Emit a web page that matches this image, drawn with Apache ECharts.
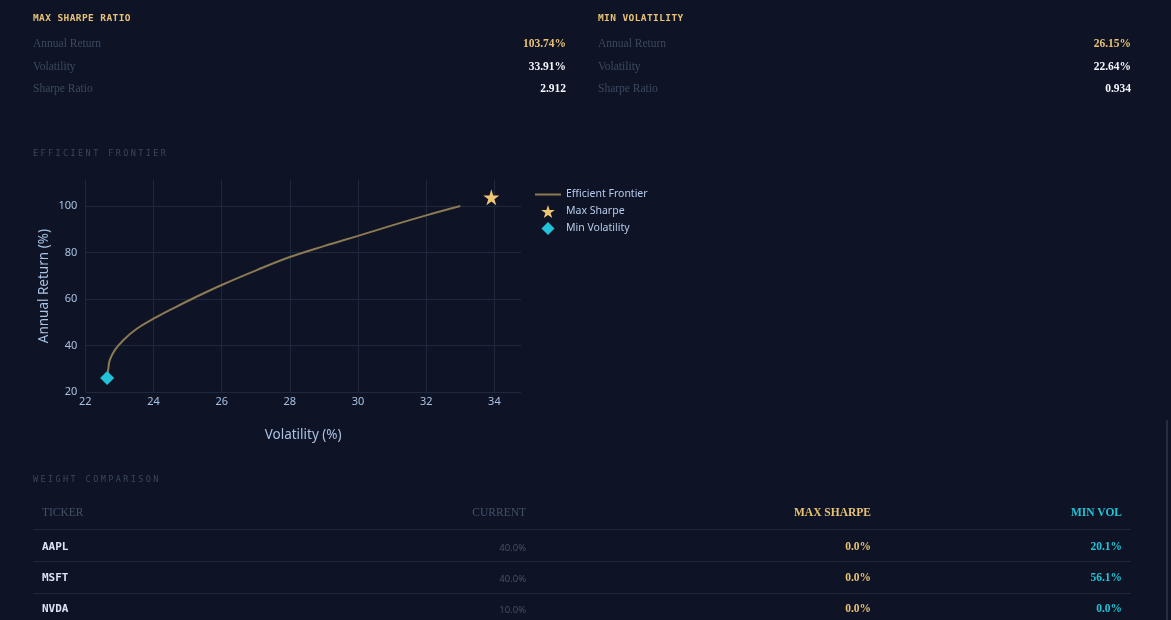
<!DOCTYPE html>
<html>
<head>
<meta charset="utf-8">
<script src="https://cdn.jsdelivr.net/npm/echarts@6.0.0/dist/echarts.min.js"></script>
<style>
  html, body { margin: 0; padding: 0; background: #0e1425; width: 1171px; height: 620px; overflow: hidden; }
  .abs { position: absolute; white-space: nowrap; }
  .hd { font-family: "DejaVu Sans Mono", monospace; font-weight: bold; font-size: 9.5px; color: #e6c178; letter-spacing: 0.4px; }
  .lbl { font-family: "Liberation Serif", serif; font-size: 11.5px; color: #3b4960; }
  .val { font-family: "Liberation Serif", serif; font-weight: bold; font-size: 11.5px; color: #f2f5fb; text-align: right; }
  .gold { color: #e9c274; }
  .cyan { color: #22c2d6; }
  .sec { font-family: "DejaVu Sans Mono", monospace; font-size: 8.5px; color: #3a465e; letter-spacing: 2.4px; }
  .th { font-family: "Liberation Serif", serif; font-size: 11.5px; color: #435169; }
  .thb { font-family: "Liberation Serif", serif; font-weight: bold; font-size: 11.5px; }
  .tk { font-family: "DejaVu Sans Mono", monospace; font-weight: bold; font-size: 11px; color: #dbe4f3; }
  .cur { font-family: "Open Sans", sans-serif; font-size: 9.5px; color: #46536a; }
  .sep { position: absolute; left: 33px; width: 1098px; height: 1px; background: #1f2838; }
  #chart { position: absolute; left: 0; top: 0; width: 1171px; height: 620px; }
</style>
</head>
<body>
<div id="chart"></div>
<div id="overlay"></div>
<script>
// ---- data ----
const frontierVol = [22.64, 22.67, 22.72, 22.87, 23.12, 23.51, 24.0, 24.58, 25.17, 26.0, 27.03, 28.0, 29.0, 30.0, 31.0, 32.0, 33.0];
const frontierRet = [26.2, 29.6, 33.9, 38.2, 42.5, 47.3, 51.6, 56.1, 60.4, 66.1, 72.5, 78.1, 82.8, 87.2, 91.7, 96.0, 100.0];
const maxSharpePoint = [33.91, 103.74];
const minVolPoint = [22.64, 26.15];
const xTicks = [22, 24, 26, 28, 30, 32, 34];
const yTicks = [20, 40, 60, 80, 100];
const seriesNames = ["Efficient Frontier", "Max Sharpe", "Min Volatility"];

const statRows = ["Annual Return", "Volatility", "Sharpe Ratio"];
const maxSharpeStats = ["103.74%", "33.91%", "2.912"];
const minVolStats = ["26.15%", "22.64%", "0.934"];

const tableHeaders = ["TICKER", "CURRENT", "MAX SHARPE", "MIN VOL"];
const tickers = ["AAPL", "MSFT", "NVDA"];
const currentWeights = ["40.0%", "40.0%", "10.0%"];
const maxSharpeWeights = ["0.0%", "0.0%", "0.0%"];
const minVolWeights = ["20.1%", "56.1%", "0.0%"];

// ---- HTML text panels ----
const ov = document.getElementById('overlay');
function add(cls, text, style) {
  const d = document.createElement('div');
  d.className = 'abs ' + cls;
  d.textContent = text;
  Object.assign(d.style, style);
  ov.appendChild(d);
  return d;
}
add('hd', 'MAX SHARPE RATIO', { left: '33px', top: '12px' });
add('hd', 'MIN VOLATILITY', { left: '598px', top: '12px' });
const rowY = [37, 60, 82];
statRows.forEach((r, i) => {
  add('lbl', r, { left: '33px', top: rowY[i] + 'px' });
  add('lbl', r, { left: '598px', top: rowY[i] + 'px' });
  add('val' + (i === 0 ? ' gold' : ''), maxSharpeStats[i], { right: (1171 - 566) + 'px', top: rowY[i] + 'px' });
  add('val' + (i === 0 ? ' gold' : ''), minVolStats[i], { right: (1171 - 1131) + 'px', top: rowY[i] + 'px' });
});
add('sec', 'EFFICIENT FRONTIER', { left: '33px', top: '148px' });
add('sec', 'WEIGHT COMPARISON', { left: '33px', top: '474px' });

add('th', tableHeaders[0], { left: '42px', top: '506px' });
add('th', tableHeaders[1], { right: (1171 - 526) + 'px', top: '506px' });
add('thb gold', tableHeaders[2], { right: (1171 - 871) + 'px', top: '506px' });
add('thb cyan', tableHeaders[3], { right: (1171 - 1122) + 'px', top: '506px' });
[529, 561, 593].forEach(y => {
  const s = document.createElement('div');
  s.className = 'sep';
  s.style.top = y + 'px';
  ov.appendChild(s);
});
const trY = [540, 571, 602];
tickers.forEach((t, i) => {
  add('tk', t, { left: '42px', top: trY[i] + 'px' });
  add('cur', currentWeights[i], { right: (1171 - 526) + 'px', top: (trY[i] + 1) + 'px' });
  add('thb gold', maxSharpeWeights[i], { right: (1171 - 871) + 'px', top: trY[i] + 'px' });
  add('thb cyan', minVolWeights[i], { right: (1171 - 1122) + 'px', top: trY[i] + 'px' });
});
const sb = document.createElement('div');
Object.assign(sb.style, { position: 'absolute', left: '1166px', top: '420px', width: '2px', height: '200px', background: '#262d3b' });
ov.appendChild(sb);

// ---- chart ----
const chart = echarts.init(document.getElementById('chart'), null, { renderer: 'canvas' });
const frontierData = frontierVol.map((v, i) => [v, frontierRet[i]]);
const gridLineStyle = { color: '#1e2940', width: 1, type: 'solid' };
const starPath = 'path://M50,0 L61.2,34.5 L97.6,34.5 L68.2,55.9 L79.4,90.5 L50,69.1 L20.6,90.5 L31.8,55.9 L2.4,34.5 L38.8,34.5 Z';
const diamondPath = 'path://M50,0 L100,50 L50,100 L0,50 Z';
const chartFont = 'Noto Sans, sans-serif';

chart.setOption({
  backgroundColor: 'transparent',
  animation: false,
  grid: { left: 85.3, top: 180, width: 435.7, height: 212.3, containLabel: false },
  legend: {
    orient: 'vertical',
    left: 535,
    top: 188,
    padding: 0,
    itemWidth: 26,
    itemHeight: 13,
    itemGap: 4,
    symbolKeepAspect: true,
    textStyle: { color: '#b7cbec', fontSize: 10.5, fontFamily: chartFont, lineHeight: 13 },
    data: [
      { name: seriesNames[0], icon: 'path://M0,0 L26,0 L26,2 L0,2 Z' },
      { name: seriesNames[1], icon: starPath },
      { name: seriesNames[2], icon: diamondPath }
    ]
  },
  xAxis: {
    type: 'value',
    min: 22,
    max: 34.78,
    interval: 2,
    axisLine: { show: false },
    axisTick: { show: false },
    splitLine: { show: false },
    axisLabel: { color: '#a9c1e3', fontSize: 11, margin: 4, showMaxLabel: false, fontFamily: chartFont },
    name: 'Volatility (%)',
    nameLocation: 'middle',
    nameGap: 36,
    nameTextStyle: { color: '#a9c1e3', fontSize: 13.5, fontFamily: chartFont }
  },
  yAxis: {
    type: 'value',
    min: 20,
    max: 111.2,
    interval: 20,
    axisLine: { show: false },
    axisTick: { show: false },
    splitLine: { show: false },
    axisLabel: { color: '#a9c1e3', fontSize: 11, margin: 8, showMaxLabel: false, fontFamily: chartFont },
    name: 'Annual Return (%)',
    nameLocation: 'middle',
    nameGap: 34,
    nameTextStyle: { color: '#a9c1e3', fontSize: 13.5, fontFamily: chartFont }
  },
  series: [
    {
      name: 'grid',
      type: 'scatter',
      data: [],
      z: 1,
      silent: true,
      markLine: {
        silent: true,
        z: 0,
        symbol: ['none', 'none'],
        label: { show: false },
        lineStyle: gridLineStyle,
        animation: false,
        data: xTicks.map(v => ({ xAxis: v })).concat(yTicks.map(v => ({ yAxis: v })))
      }
    },
    {
      name: seriesNames[0],
      type: 'line',
      data: frontierData,
      smooth: 0.4,
      showSymbol: false,
      symbol: 'none',
      z: 3,
      lineStyle: { color: '#8c7b52', width: 2 },
      itemStyle: { color: '#8c7b52' }
    },
    {
      name: seriesNames[1],
      type: 'scatter',
      data: [maxSharpePoint],
      symbol: starPath,
      symbolSize: 16,
      z: 4,
      itemStyle: { color: '#f0c674', opacity: 1 }
    },
    {
      name: seriesNames[2],
      type: 'scatter',
      data: [minVolPoint],
      symbol: diamondPath,
      symbolSize: 14,
      z: 4,
      itemStyle: { color: '#22c3d8', opacity: 1 }
    }
  ]
});
</script>
</body>
</html>
